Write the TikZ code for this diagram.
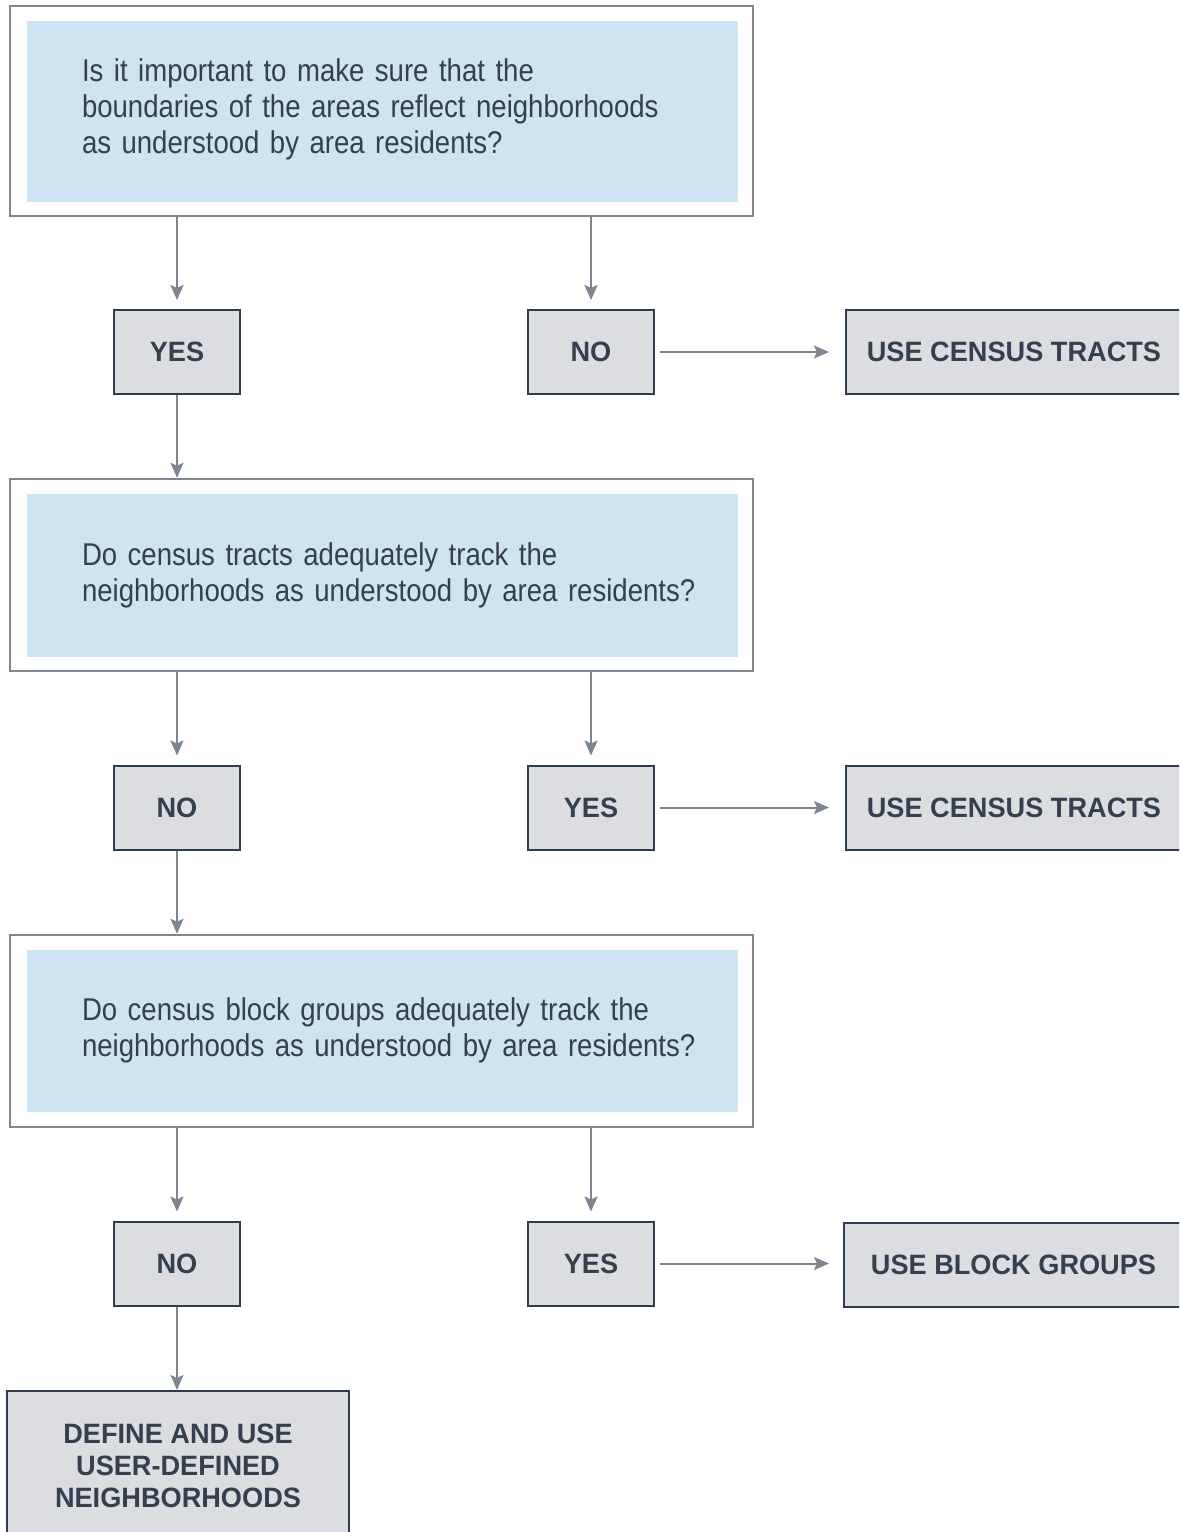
\documentclass[tikz,border=0pt]{standalone}
\usepackage{fontspec}
\usetikzlibrary{arrows.meta}
\newfontfamily\qfont[FakeStretch=0.875]{Liberation Sans}
\newfontfamily\lfont[FakeStretch=0.97]{Liberation Sans Bold}
\definecolor{qgray}{RGB}{128,134,144}
\definecolor{qblue}{RGB}{205,228,243}
\definecolor{boxfill}{RGB}{220,221,225}
\definecolor{boxline}{RGB}{46,61,79}
\definecolor{ink}{RGB}{52,64,80}
\definecolor{arrgray}{RGB}{125,133,145}
\newcommand{\qindent}{\setlength{\leftskip}{55pt}}
\begin{document}
\begin{tikzpicture}[x=1pt,y=-1pt,
  qout/.style={draw=qgray, line width=2.5pt, fill=white, minimum width=743pt, minimum height=#1, inner sep=0pt},
  qin/.style={fill=qblue, minimum width=711pt, minimum height=#1, text width=711pt, align=left,
    font=\qfont\fontsize{31.5}{36}\selectfont, text=ink, inner xsep=0pt, inner ysep=0pt},
  ans/.style={draw=boxline, line width=2pt, fill=boxfill, minimum width=126pt, minimum height=84pt,
    font=\lfont\fontsize{28}{32}\selectfont, text=ink, inner sep=0pt},
  res/.style={ans, minimum width=336pt},
  arr/.style={draw=arrgray, line width=2pt, -{Stealth[length=15pt,width=13pt,inset=3pt]}}
]
\clip (0,0) rectangle (1179,1532);
\fill[white] (0,0) rectangle (1179,1532);

% Question 1
\node[qout=210pt] (q1) at (381.5,111) {};
\node[qin=181pt] (q1in) at (382.5,111.5) {\qindent Is it important to make sure that the\\ boundaries of the areas reflect neighborhoods\\ as understood by area residents?\par\vspace{4pt}};
\node[ans] (y1) at (177,352) {YES};
\node[ans] (n1) at (591,352) {NO};
\node[res] (r1) at (1014,352) {USE CENSUS TRACTS};

% Question 2
\node[qout=192pt] (q2) at (381.5,575) {};
\node[qin=163pt] (q2in) at (382.5,575.5) {\qindent Do census tracts adequately track the\\ neighborhoods as understood by area residents?\par};
\node[ans] (n2) at (177,807.5) {NO};
\node[ans] (y2) at (591,807.5) {YES};
\node[res] (r2) at (1014,807.5) {USE CENSUS TRACTS};

% Question 3
\node[qout=192pt] (q3) at (381.5,1031) {};
\node[qin=162pt] (q3in) at (382.5,1031) {\qindent Do census block groups adequately track the\\ neighborhoods as understood by area residents?\par\vspace{1pt}};
\node[ans] (n3) at (177,1263.5) {NO};
\node[ans] (y3) at (591,1263.5) {YES};
\node[res, minimum width=339pt] (r3) at (1013.5,1264.5) {USE BLOCK GROUPS};

% Final
\node[ans, minimum width=342pt, minimum height=150pt, align=center] (fin) at (178,1466) {DEFINE AND USE\\ USER-DEFINED\\ NEIGHBORHOODS};

% Connectors
\draw[arr, shorten >=9pt] (q1.south -| y1.north) -- (y1.north);
\draw[arr, shorten >=9pt] (q1.south -| n1.north) -- (n1.north);
\draw[arr, shorten <=5pt, shorten >=16pt] (n1.east) -- (r1.west);
\draw[arr] (y1.south) -- (q2.north -| y1.south);

\draw[arr, shorten >=9pt] (q2.south -| n2.north) -- (n2.north);
\draw[arr, shorten >=9pt] (q2.south -| y2.north) -- (y2.north);
\draw[arr, shorten <=5pt, shorten >=16pt] (y2.east) -- (r2.west);
\draw[arr] (n2.south) -- (q3.north -| n2.south);

\draw[arr, shorten >=9pt] (q3.south -| n3.north) -- (n3.north);
\draw[arr, shorten >=9pt] (q3.south -| y3.north) -- (y3.north);
\draw[arr, shorten <=5pt, shorten >=14pt] (y3.east) -- (y3.east -| r3.west);
\draw[arr] (n3.south) -- (n3.south |- fin.north);
\end{tikzpicture}
\end{document}
